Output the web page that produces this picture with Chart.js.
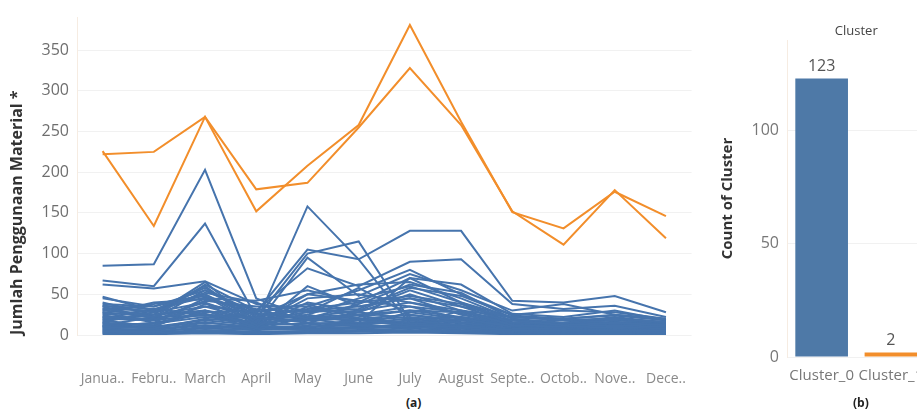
<!DOCTYPE html>
<html>
<head>
<meta charset="utf-8">
<script src="https://cdn.jsdelivr.net/npm/chart.js@4/dist/chart.umd.min.js"></script>
<style>
  html, body { margin: 0; padding: 0; background: #fff; overflow: hidden; width: 917px; height: 412px; }
  #lineWrap { position: absolute; left: 0; top: 0; width: 722px; height: 392px; }
  #barWrap { position: absolute; left: 712px; top: 0; width: 222px; height: 392px; }
  .cap { position: absolute; top: 394px; font: bold 12px "Open Sans", sans-serif; color: #222; }
</style>
</head>
<body>
<div id="lineWrap"><canvas id="usageByMonth"></canvas></div>
<div id="barWrap"><canvas id="clusterCount"></canvas></div>
<div class="cap" style="left:406px">(a)</div>
<div class="cap" style="left:853px">(b)</div>
<script>
const months = ['Janua..', 'Febru..', 'March', 'April', 'May', 'June', 'July', 'August', 'Septe..', 'Octob..', 'Nove..', 'Dece..'];

// cluster_1 (orange) - 2 items
const cluster1Series = [
  [226, 134, 268, 152, 208, 258, 381, 262, 151, 131, 176, 146],
  [222, 225, 268, 179, 187, 255, 328, 258, 152, 111, 178, 119]
];

// cluster_0 (blue) - the visible lines
const cluster0Series = [
  [85, 87, 203, 45, 22, 18, 12, 10, 6, 5, 6, 5],
  [67, 60, 137, 22, 15, 12, 10, 8, 5, 4, 5, 4],
  [62, 57, 66, 38, 30, 35, 45, 35, 22, 18, 20, 16],
  [47, 30, 60, 15, 158, 93, 14, 12, 6, 6, 5, 5],
  [38, 35, 55, 28, 105, 93, 128, 128, 42, 40, 48, 28],
  [36, 28, 50, 20, 100, 115, 18, 12, 8, 7, 6, 6],
  [33, 22, 62, 30, 82, 60, 90, 93, 38, 32, 36, 22],
  [30, 38, 48, 12, 95, 48, 75, 55, 30, 38, 25, 20],
  [28, 15, 45, 42, 55, 40, 70, 62, 26, 22, 30, 18],
  [25, 30, 58, 22, 50, 62, 65, 45, 20, 15, 22, 15],
  [22, 18, 42, 35, 35, 55, 80, 50, 25, 30, 28, 20],
  [40, 25, 35, 18, 25, 45, 60, 40, 18, 12, 15, 12],
  [35, 20, 30, 10, 40, 30, 55, 35, 15, 18, 20, 15],
  [18, 10, 38, 25, 30, 28, 50, 30, 12, 10, 12, 10],
  [20, 32, 25, 8, 60, 35, 45, 25, 14, 15, 18, 14],
  [15, 12, 28, 30, 20, 38, 62, 52, 20, 12, 14, 12],
  [30, 25, 65, 12, 45, 50, 40, 30, 22, 20, 25, 18],
  [12, 22, 24, 20, 18, 25, 35, 20, 10, 8, 10, 8],
  [45, 35, 50, 15, 20, 22, 30, 28, 18, 14, 16, 12],
  [26, 40, 44, 32, 28, 58, 25, 18, 12, 10, 12, 10],
  [10, 8, 20, 15, 12, 18, 22, 15, 8, 6, 8, 6],
  [8, 6, 15, 10, 10, 12, 18, 12, 6, 5, 6, 5],
  [24, 18, 35, 28, 38, 20, 12, 30, 15, 14, 20, 16],
  [16, 28, 40, 5, 25, 15, 70, 40, 22, 18, 14, 12],
  [32, 30, 52, 40, 15, 28, 20, 22, 14, 12, 15, 12],
  [5, 4, 10, 8, 6, 8, 10, 6, 4, 3, 4, 3],
  [6, 5, 8, 6, 8, 10, 12, 8, 5, 4, 5, 4],
  [4, 3, 6, 4, 5, 6, 8, 5, 3, 2, 3, 2],
  [3, 2, 5, 3, 4, 5, 6, 4, 2, 2, 2, 2],
  [2, 2, 3, 2, 3, 4, 5, 3, 2, 1, 2, 1],
  [7, 6, 12, 9, 7, 9, 14, 10, 6, 5, 6, 5],
  [9, 10, 18, 12, 14, 15, 20, 14, 8, 7, 8, 7],
  [12, 14, 22, 16, 18, 20, 25, 16, 10, 9, 10, 9],
  [14, 12, 30, 20, 22, 25, 30, 22, 12, 10, 12, 10],
  [1, 1, 2, 1, 2, 2, 3, 2, 1, 1, 1, 1],
  [20, 18, 25, 22, 32, 40, 48, 38, 16, 14, 16, 14],
  [28, 22, 40, 18, 28, 32, 58, 48, 24, 20, 24, 18],
  [18, 25, 30, 14, 50, 42, 35, 28, 14, 12, 14, 10],
  [10, 15, 26, 12, 22, 30, 40, 26, 12, 10, 10, 8],
  [22, 20, 55, 25, 8, 20, 15, 18, 10, 8, 10, 8],
  [36, 32, 46, 26, 20, 12, 28, 20, 12, 10, 12, 10],
  [15, 8, 12, 6, 35, 25, 10, 8, 5, 4, 5, 4],
  [11, 9, 16, 8, 10, 14, 16, 11, 7, 6, 7, 6]
];

const clusterNames = ['Cluster_0', 'Cluster_1'];
const clusterCounts = [123, 2];

const blue = '#4674ad';
const orange = '#F28E2B';
const font = '"Open Sans", sans-serif';

const lineSets = [];
cluster1Series.forEach(function (s, i) {
  lineSets.push({ label: 'Cluster_1 #' + (i + 1), data: s, borderColor: orange, borderWidth: 2, order: 0 });
});
cluster0Series.forEach(function (s, i) {
  lineSets.push({ label: 'Cluster_0 #' + (i + 1), data: s, borderColor: blue, borderWidth: 2, order: 1 });
});

const usageByMonth = document.getElementById('usageByMonth');

new Chart(usageByMonth, {
  type: 'line',
  data: { labels: months, datasets: lineSets },
  options: {
    responsive: true,
    maintainAspectRatio: false,
    animation: false,
    layout: { padding: { top: 7, right: 2 } },
    elements: { point: { radius: 0 }, line: { tension: 0 } },
    plugins: { legend: { display: false }, tooltip: { enabled: false } },
    scales: {
      x: {
        offset: true,
        grid: { display: false, drawTicks: false },
        border: { display: false },
        ticks: { color: '#8a8a8a', font: { family: font, size: 14 }, padding: 36, maxRotation: 0, autoSkip: false },
        afterFit: function (axis) { axis.height = 57; }
      },
      y: {
        min: 0,
        max: 390,
        grid: { color: '#f1f1f1', drawTicks: false },
        border: { display: true, color: '#f6ece2' },
        ticks: { color: '#6e6e6e', font: { family: font, size: 16 }, padding: 8 },
        afterBuildTicks: function (axis) {
          axis.ticks = [0, 50, 100, 150, 200, 250, 300, 350].map(function (v) { return { value: v }; });
        },
        title: {
          display: true,
          text: 'Jumlah Penggunaan Material *',
          align: 'start',
          color: '#333',
          font: { family: font, size: 16, weight: 'bold' },
          padding: { top: 8 }
        },
        afterFit: function (axis) { axis.width = 77; }
      }
    }
  }
});

const barLabels = {
  id: 'barLabels',
  afterDatasetsDraw: function (chart) {
    const ctx = chart.ctx;
    const meta = chart.getDatasetMeta(0);
    const area = chart.chartArea;
    ctx.save();
    ctx.fillStyle = '#555';
    ctx.font = '16px ' + font;
    ctx.textAlign = 'center';
    ctx.textBaseline = 'bottom';
    meta.data.forEach(function (bar, i) {
      ctx.fillText(String(chart.data.datasets[0].data[i]), bar.x, bar.y - 4);
    });
    // pane header, centred over the whole pane
    ctx.fillStyle = '#444';
    ctx.font = '13px ' + font;
    ctx.textBaseline = 'middle';
    ctx.fillText('Cluster', (area.left + area.right) / 2, 31);
    ctx.restore();
  }
};

const clusterCount = document.getElementById('clusterCount');

new Chart(clusterCount, {
  type: 'bar',
  data: {
    labels: clusterNames,
    datasets: [{
      label: 'Count of Cluster',
      data: clusterCounts,
      backgroundColor: ['#4E79A7', orange],
      barPercentage: 0.76,
      categoryPercentage: 1
    }]
  },
  options: {
    responsive: true,
    maintainAspectRatio: false,
    animation: false,
    layout: { padding: { top: 40, right: 3 } },
    plugins: {
      legend: { display: false },
      tooltip: { enabled: false }
    },
    scales: {
      x: {
        grid: { display: false, drawTicks: false },
        border: { display: false },
        ticks: { color: '#777', font: { family: font, size: 15 }, padding: 10, maxRotation: 0, autoSkip: false },
        afterFit: function (axis) { axis.height = 35; }
      },
      y: {
        min: 0,
        max: 140,
        grid: { color: '#f1f1f1', drawTicks: false },
        border: { display: true, color: '#f6ece2' },
        ticks: { color: '#777', font: { family: font, size: 16 }, padding: 8 },
        afterBuildTicks: function (axis) {
          axis.ticks = [0, 50, 100].map(function (v) { return { value: v }; });
        },
        title: {
          display: true,
          text: 'Count of Cluster',
          color: '#333',
          font: { family: font, size: 15, weight: 'bold' },
          padding: { top: 7 }
        },
        afterFit: function (axis) { axis.width = 75; }
      }
    }
  },
  plugins: [barLabels]
});
</script>
</body>
</html>
